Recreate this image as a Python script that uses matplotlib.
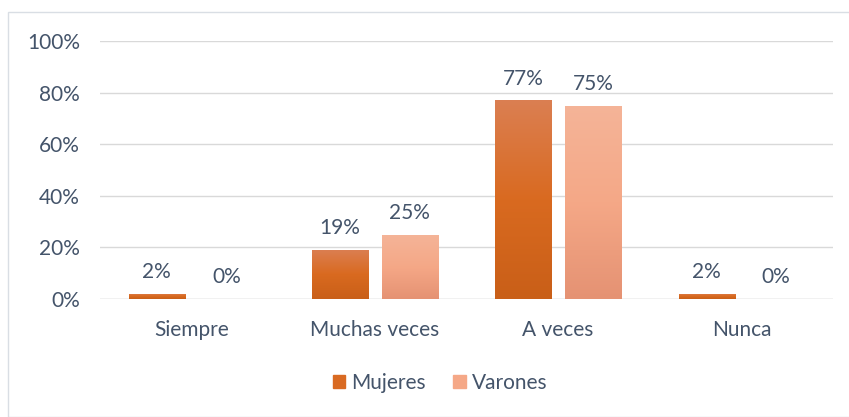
import matplotlib
matplotlib.use("Agg")
import matplotlib.pyplot as plt
import numpy as np
from matplotlib.colors import LinearSegmentedColormap
from matplotlib.patches import Rectangle

categories = ["Siempre", "Muchas veces", "A veces", "Nunca"]
mujeres = [2, 19, 77, 2]
varones = [0, 25, 75, 0]
series_names = ["Mujeres", "Varones"]
yticks = [0, 20, 40, 60, 80, 100]

plt.rcParams['font.family'] = ['Lato', 'DejaVu Sans']
text_color = "#44546A"
fs = 15

W, H = 849, 417
fig = plt.figure(figsize=(W/100, H/100), dpi=100)
ax = fig.add_axes([100/W, 1-299/H, 733/W, (299-41)/H])

grads = [("#DB7F52", "#D96A20", "#C95F18"), ("#F4B498", "#F5A887", "#E59273")]
cmaps = [LinearSegmentedColormap.from_list("m", [g[2], g[1], g[0]]) for g in grads]
solid = ["#D96A22", "#F5A887"]

x = np.arange(len(categories))
bw = 0.306
offs = [-0.19, 0.19]
grad = np.linspace(0, 1, 256).reshape(-1, 1)
for si, vals in enumerate([mujeres, varones]):
    bars = ax.bar(x + offs[si], vals, bw, color=solid[si], zorder=2, label=series_names[si])
    for b, v in zip(bars, vals):
        if v > 0:
            x0 = b.get_x()
            im = ax.imshow(grad, extent=[x0, x0 + bw, 0, v], origin='lower',
                           aspect='auto', cmap=cmaps[si], zorder=3)
            im.set_clip_path(b)
        ax.text(b.get_x() + bw/2, v + 4.5, f"{v}%", ha='center', va='bottom',
                fontsize=fs, color=text_color, zorder=4)

ax.set_xlim(-0.5, len(categories) - 0.5)
ax.set_ylim(0, 100)
ax.set_yticks(yticks)
ax.set_yticklabels([f"{t}%" for t in yticks])
ax.set_xticks(x)
ax.set_xticklabels(categories)
ax.tick_params(axis='both', length=0, labelsize=fs, labelcolor=text_color)
ax.tick_params(axis='y', pad=14.5)
ax.tick_params(axis='x', pad=15)
ax.yaxis.grid(True, color="#D9D9D9", linewidth=1, zorder=0)
ax.set_axisbelow(True)
for s in ax.spines.values():
    s.set_visible(False)
ax.axhline(0, color="#D9D9D9", linewidth=1, zorder=1)

handles = [Rectangle((0, 0), 1, 1, color=solid[0]), Rectangle((0, 0), 1, 1, color=solid[1])]
fig.legend(handles, series_names, loc='center', bbox_to_anchor=(440/W, 1-383/H),
           ncol=2, frameon=False, fontsize=fs, labelcolor=text_color,
           handlelength=0.6, handleheight=0.6, handletextpad=0.3, columnspacing=1.3)

fig.patches.append(Rectangle((8/W, 0), 1, 1-12/H, transform=fig.transFigure,
                             fill=False, edgecolor="#D9DEE4", linewidth=1))

fig.savefig("out.png", dpi=100)
